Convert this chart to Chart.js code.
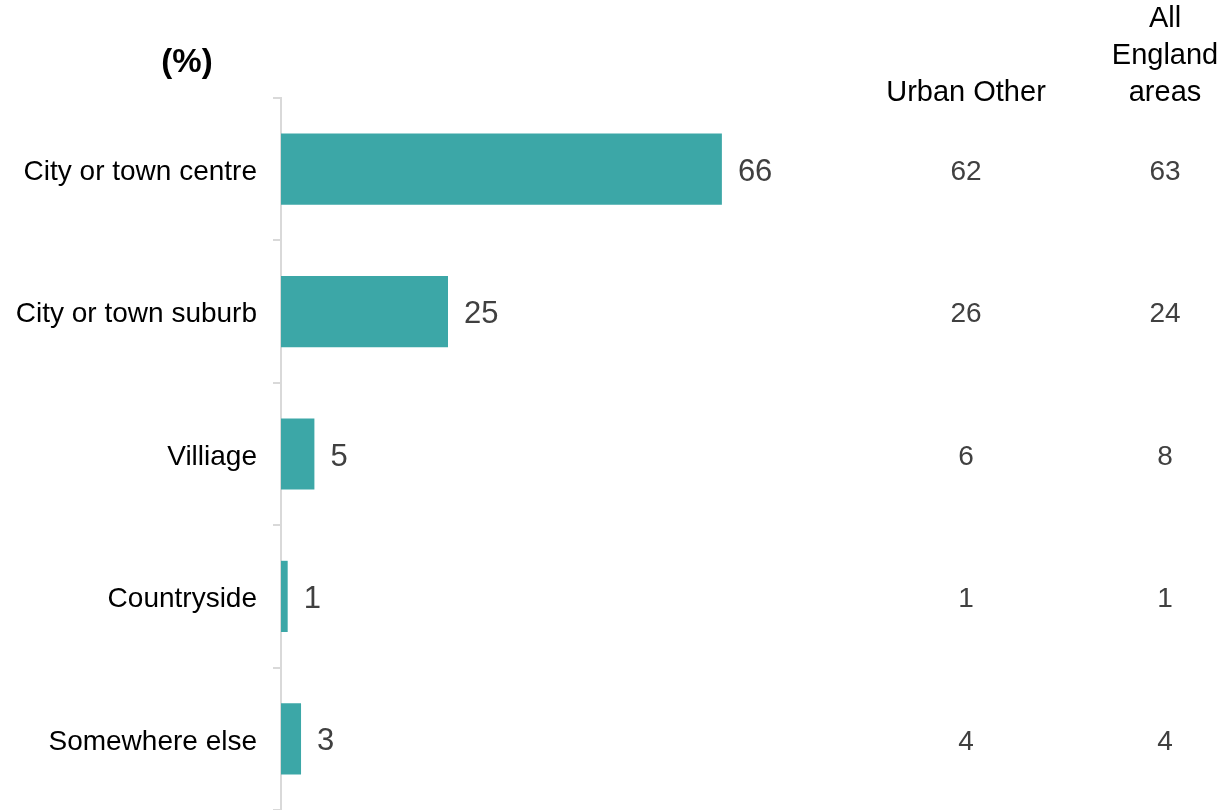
<!DOCTYPE html>
<html>
<head>
<meta charset="utf-8">
<script src="https://cdn.jsdelivr.net/npm/chart.js@4"></script>
<style>
  body { margin: 0; background: #fff; }
  #wrap { width: 1227px; height: 810px; position: relative; }
</style>
</head>
<body>
<div id="wrap"><canvas id="chart"></canvas></div>
<script>
// Données du graphique
const categories = ['City or town centre', 'City or town suburb', 'Villiage', 'Countryside', 'Somewhere else'];
const valeursZone = [66, 25, 5, 1, 3];
const urbanOther = [62, 26, 6, 1, 4];
const allEngland = [63, 24, 8, 1, 4];
const enteteColonnes = [['Urban Other'], ['All', 'England', 'areas']];

const FONT = '"Liberation Sans", Arial, sans-serif';

// Textes autour du graphique : titre, colonnes, valeurs
const textesPlugin = {
    id: 'textes',
    afterDatasetsDraw(chart) {
        const ctx = chart.ctx;
        const meta = chart.getDatasetMeta(0);
        ctx.save();

        // Titre (%)
        ctx.fillStyle = '#000';
        ctx.font = 'bold 33px ' + FONT;
        ctx.textAlign = 'center';
        ctx.textBaseline = 'middle';
        ctx.fillText('(%)', 187, 63);

        // En-têtes des colonnes
        ctx.font = '29px ' + FONT;
        ctx.textBaseline = 'alphabetic';
        const colX = [966, 1165];
        enteteColonnes.forEach((lignes, i) => {
            lignes.forEach((l, j) => {
                const y = 101 - (lignes.length - 1 - j) * 37;
                ctx.fillText(l, colX[i], y);
            });
        });

        // Valeurs des barres + colonnes
        ctx.fillStyle = '#404040';
        ctx.textBaseline = 'middle';
        meta.data.forEach((bar, i) => {
            ctx.font = '31px ' + FONT;
            ctx.textAlign = 'left';
            ctx.fillText(valeursZone[i], bar.x + 16, bar.y + 3);
            ctx.font = '28px ' + FONT;
            ctx.textAlign = 'center';
            ctx.fillText(urbanOther[i], colX[0], bar.y + 3);
            ctx.fillText(allEngland[i], colX[1], bar.y + 3);
        });
        ctx.restore();
    }
};

new Chart(document.getElementById('chart'), {
    type: 'bar',
    data: {
        labels: categories,
        datasets: [{
            data: valeursZone,
            backgroundColor: '#3ca7a7',
            barPercentage: 0.5,
            categoryPercentage: 1
        }]
    },
    options: {
        indexAxis: 'y',
        responsive: true,
        maintainAspectRatio: false,
        animation: false,
        layout: {
            padding: { top: 98, right: 278, bottom: 0, left: 0 }
        },
        plugins: {
            legend: { display: false },
            tooltip: { enabled: false }
        },
        scales: {
            x: {
                display: false,
                min: 0,
                max: 100
            },
            y: {
                afterFit(scale) {
                    scale.width = 281;
                    scale.paddingTop = 0;
                    scale.paddingBottom = 0;
                },
                border: { color: '#d9d9d9', width: 2 },
                grid: {
                    drawOnChartArea: false,
                    drawTicks: true,
                    tickLength: 8,
                    color: '#d9d9d9',
                    lineWidth: 2
                },
                ticks: {
                    color: '#000',
                    padding: 16,
                    labelOffset: 3,
                    font: { family: FONT, size: 28 }
                }
            }
        }
    },
    plugins: [textesPlugin]
});
</script>
</body>
</html>
